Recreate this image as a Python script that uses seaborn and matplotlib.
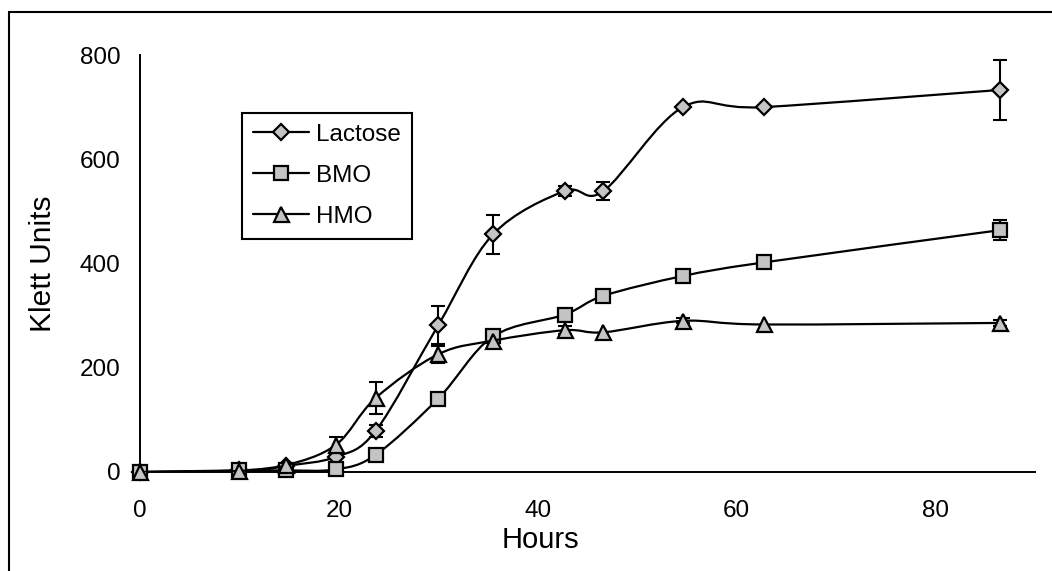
import numpy as np
import pandas as pd
import matplotlib
matplotlib.use("Agg")
import matplotlib.pyplot as plt
import seaborn as sns
from matplotlib.path import Path
from matplotlib.patches import PathPatch, Rectangle
from matplotlib.lines import Line2D

# ---- data ----
hours = [0, 10, 14.7, 19.7, 23.7, 30, 35.5, 42.7, 46.6, 54.6, 62.7, 86.5]
lactose = [0, 3, 12, 29, 79, 282, 456, 539, 539, 700, 700, 733]
lactose_err = [0, 0, 0, 5, 11, 37, 37, 10, 17, 0, 0, 58]
bmo = [0, 3, 3, 5, 33, 141, 260, 302, 338, 376, 402, 464]
bmo_err = [0, 0, 0, 10, 0, 0, 0, 0, 12, 0, 0, 19]
hmo = [0, 2, 13, 52, 142, 226, 252, 272, 268, 290, 283, 286]
hmo_err = [0, 0, 0, 15, 30, 16, 0, 8, 0, 5, 0, 5]
series_names = ["Lactose", "BMO", "HMO"]
x_ticks = [0, 20, 40, 60, 80]
y_ticks = [0, 200, 400, 600, 800]

sns.set_style("white")
plt.rcParams["font.family"] = ["Liberation Sans", "DejaVu Sans"]
plt.rcParams["text.color"] = "black"
plt.rcParams["axes.labelcolor"] = "black"

W, H = 1052, 571
fig = plt.figure(figsize=(W / 100, H / 100), dpi=100)
ax = fig.add_axes([140 / W, 1 - 472 / H, 895 / W, 417 / H])

gray = "#c4c4c4"
styles = {
    "Lactose": dict(marker="D", markersize=8.5),
    "BMO": dict(marker="s", markersize=10.3),
    "HMO": dict(marker="^", markersize=10.8),
}
values = {"Lactose": (lactose, lactose_err), "BMO": (bmo, bmo_err), "HMO": (hmo, hmo_err)}


def smooth_path(xs, ys):
    P = np.column_stack([xs, ys]).astype(float)
    n = len(P)
    verts = [P[0]]
    codes = [Path.MOVETO]
    for i in range(n - 1):
        p0 = P[i - 1] if i > 0 else P[i]
        p1 = P[i]
        p2 = P[i + 1]
        p3 = P[i + 2] if i + 2 < n else P[i + 1]
        c1 = p1 + (p2 - p0) / 6.0
        c2 = p2 - (p3 - p1) / 6.0
        verts += [c1, c2, p2]
        codes += [Path.CURVE4] * 3
    return Path(verts, codes)


z = 3
for name in series_names:
    vals, err = values[name]
    df = pd.DataFrame({"Hours": hours, "Klett": vals})
    # smoothed connecting line
    patch = PathPatch(smooth_path(hours, vals), facecolor="none", edgecolor="black",
                      lw=1.6, transform=ax.transData, zorder=z)
    ax.add_patch(patch)
    # error bars
    e = np.array(err, dtype=float)
    m = e > 0
    ax.errorbar(np.array(hours)[m], np.array(vals)[m], yerr=e[m], fmt="none",
                ecolor="black", elinewidth=1.5, capsize=4.7, capthick=1.5, zorder=z)
    # markers
    sns.lineplot(data=df, x="Hours", y="Klett", ax=ax, color="black", linestyle="",
                 markerfacecolor=gray, markeredgecolor="black", markeredgewidth=1.6,
                 clip_on=False, zorder=z + 0.5, **styles[name])
    z += 1

ax.set_xlim(0, 90)
ax.set_ylim(0, 800)
ax.set_xticks(x_ticks)
ax.set_yticks(y_ticks)
ax.set_xticklabels([str(t) for t in x_ticks])
ax.set_yticklabels([str(t) for t in y_ticks])
for s in ["top", "right"]:
    ax.spines[s].set_visible(False)
for s in ["left", "bottom"]:
    ax.spines[s].set_linewidth(1.4)
    ax.spines[s].set_color("black")
ax.tick_params(axis="both", direction="out", length=6, width=1.4, colors="black",
               labelsize=17.5)
ax.tick_params(axis="x", pad=14)
ax.tick_params(axis="y", pad=8)

ax.set_xlabel("Hours", fontsize=21)
ax.set_ylabel("Klett Units", fontsize=21.5)
ax.xaxis.set_label_coords((540 - 140) / 895, -(540 - 472) / 417)
ax.xaxis.label.set_va("center")
ax.yaxis.set_label_coords((43 - 140) / 895, 0.5)
ax.yaxis.label.set_va("center")

handles = [Line2D([], [], color="black", lw=1.6, markerfacecolor=gray,
                  markeredgecolor="black", markeredgewidth=1.6, **styles[n])
           for n in series_names]
leg = ax.legend(handles, series_names, loc="upper left",
                bbox_to_anchor=(242 / W, 1 - 113 / H), bbox_transform=fig.transFigure,
                frameon=True, fancybox=False, framealpha=1, edgecolor="black",
                fontsize=17.5, handlelength=2.3, handletextpad=0.3, borderpad=0.45,
                labelspacing=0.78, borderaxespad=0)
leg.get_frame().set_linewidth(1.5)

fig.add_artist(Rectangle((9 / W, -0.1), 1.2, 1.1 - 12 / H, transform=fig.transFigure,
                         fill=False, edgecolor="black", lw=1.5))

fig.savefig("out.png", dpi=100, facecolor="white")
